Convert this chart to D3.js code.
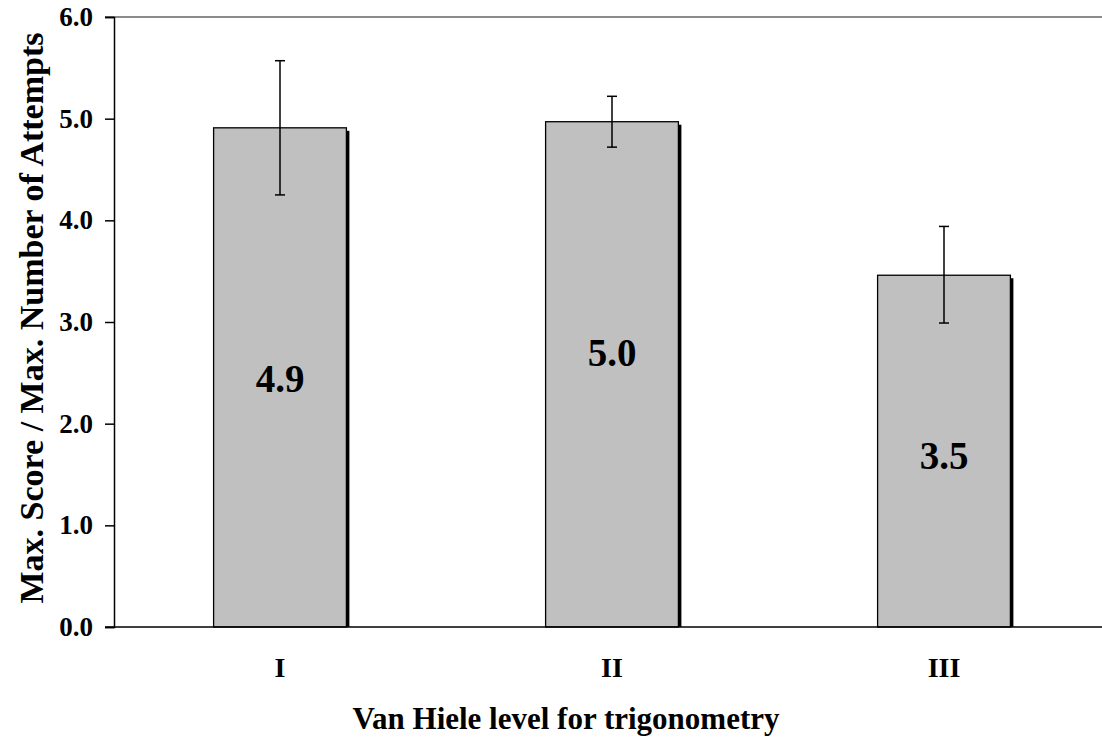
<!DOCTYPE html>
<html><head><meta charset="utf-8">
<script src="https://cdn.jsdelivr.net/npm/d3@7"></script>
<style>
html,body{margin:0;padding:0;background:#fff;}
svg{display:block;}
text{font-family:"Liberation Serif","Times New Roman",serif;font-weight:bold;fill:#000;}
</style></head>
<body>
<script>
const categories = ["I", "II", "III"];
const means = [4.91, 4.97, 3.46];
const upper = [5.57, 5.22, 3.94];
const lower = [4.25, 4.72, 2.99];
const valueLabels = ["4.9", "5.0", "3.5"];
const labelAt = [2.45, 2.70, 1.69];
const yTicks = [0, 1, 2, 3, 4, 5, 6];
const yTitle = "Max.  Score / Max. Number of Attempts";
const xTitle = "Van Hiele level for trigonometry";

const W = 1102, H = 737;
const svg = d3.select("body").append("svg").attr("width", W).attr("height", H);

const x0 = 114, x1 = 1110, yTop = 17, yBot = 627;
const x = d3.scaleBand().domain(categories).range([x0, x1]).paddingInner(0.6).paddingOuter(0.3);
const y = d3.scaleLinear().domain([0, 6]).range([yBot, yTop]);

// top gridline (max)
svg.append("line").attr("x1", x0 - 9).attr("x2", W).attr("y1", y(6)).attr("y2", y(6))
  .attr("stroke", "#8c8c8c").attr("stroke-width", 2);

// bars with shadow
const g = svg.append("g");
categories.forEach((c, i) => {
  g.append("rect").attr("x", x(c) + 3).attr("y", y(means[i]) + 3)
    .attr("width", x.bandwidth()).attr("height", y(0) - y(means[i]) - 3).attr("fill", "#000");
  g.append("rect").attr("x", x(c)).attr("y", y(means[i]))
    .attr("width", x.bandwidth()).attr("height", y(0) - y(means[i]))
    .attr("fill", "#c0c0c0").attr("stroke", "#000").attr("stroke-width", 1.3);
});

// error bars
categories.forEach((c, i) => {
  const cx = x(c) + x.bandwidth() / 2;
  g.append("line").attr("x1", cx).attr("x2", cx).attr("y1", y(upper[i])).attr("y2", y(lower[i]))
    .attr("stroke", "#000").attr("stroke-width", 1.5);
  [upper[i], lower[i]].forEach(v => {
    g.append("line").attr("x1", cx - 5).attr("x2", cx + 5).attr("y1", y(v)).attr("y2", y(v))
      .attr("stroke", "#000").attr("stroke-width", 1.5);
  });
  g.append("text").attr("x", cx).attr("y", y(labelAt[i])).attr("dy", "0.35em")
    .attr("text-anchor", "middle").style("font-size", "39px").text(valueLabels[i]);
});

// y axis
const yAxis = d3.axisLeft(y).tickValues(yTicks).tickFormat(d3.format(".1f")).tickSize(9).tickPadding(12);
const ya = svg.append("g").attr("transform", `translate(${x0},0)`).call(yAxis);
ya.select(".domain").attr("stroke", "#000").attr("stroke-width", 1.5);
ya.selectAll(".tick line").attr("stroke", "#000").attr("stroke-width", 1.5);
ya.selectAll(".tick text").style("font-size", "27px").style("font-family", "Liberation Serif").style("font-weight", "bold").attr("fill", "#000");

// x axis line
svg.append("line").attr("x1", x0 - 9).attr("x2", W).attr("y1", yBot).attr("y2", yBot)
  .attr("stroke", "#000").attr("stroke-width", 1.5);

// category labels
const xAxis = d3.axisBottom(x).tickSize(0).tickPadding(30);
const xa = svg.append("g").attr("transform", `translate(0,${yBot})`).call(xAxis);
xa.select(".domain").remove();
xa.selectAll(".tick text").style("font-size", "28px").style("font-family", "Liberation Serif").style("font-weight", "bold").attr("fill", "#000");

// titles
svg.append("text").attr("x", 566).attr("y", 729).attr("text-anchor", "middle")
  .style("font-size", "31px").text(xTitle);
svg.append("text").attr("transform", `translate(43,318) rotate(-90)`)
  .attr("text-anchor", "middle").style("font-size", "34px").text(yTitle);
</script>
</body></html>
